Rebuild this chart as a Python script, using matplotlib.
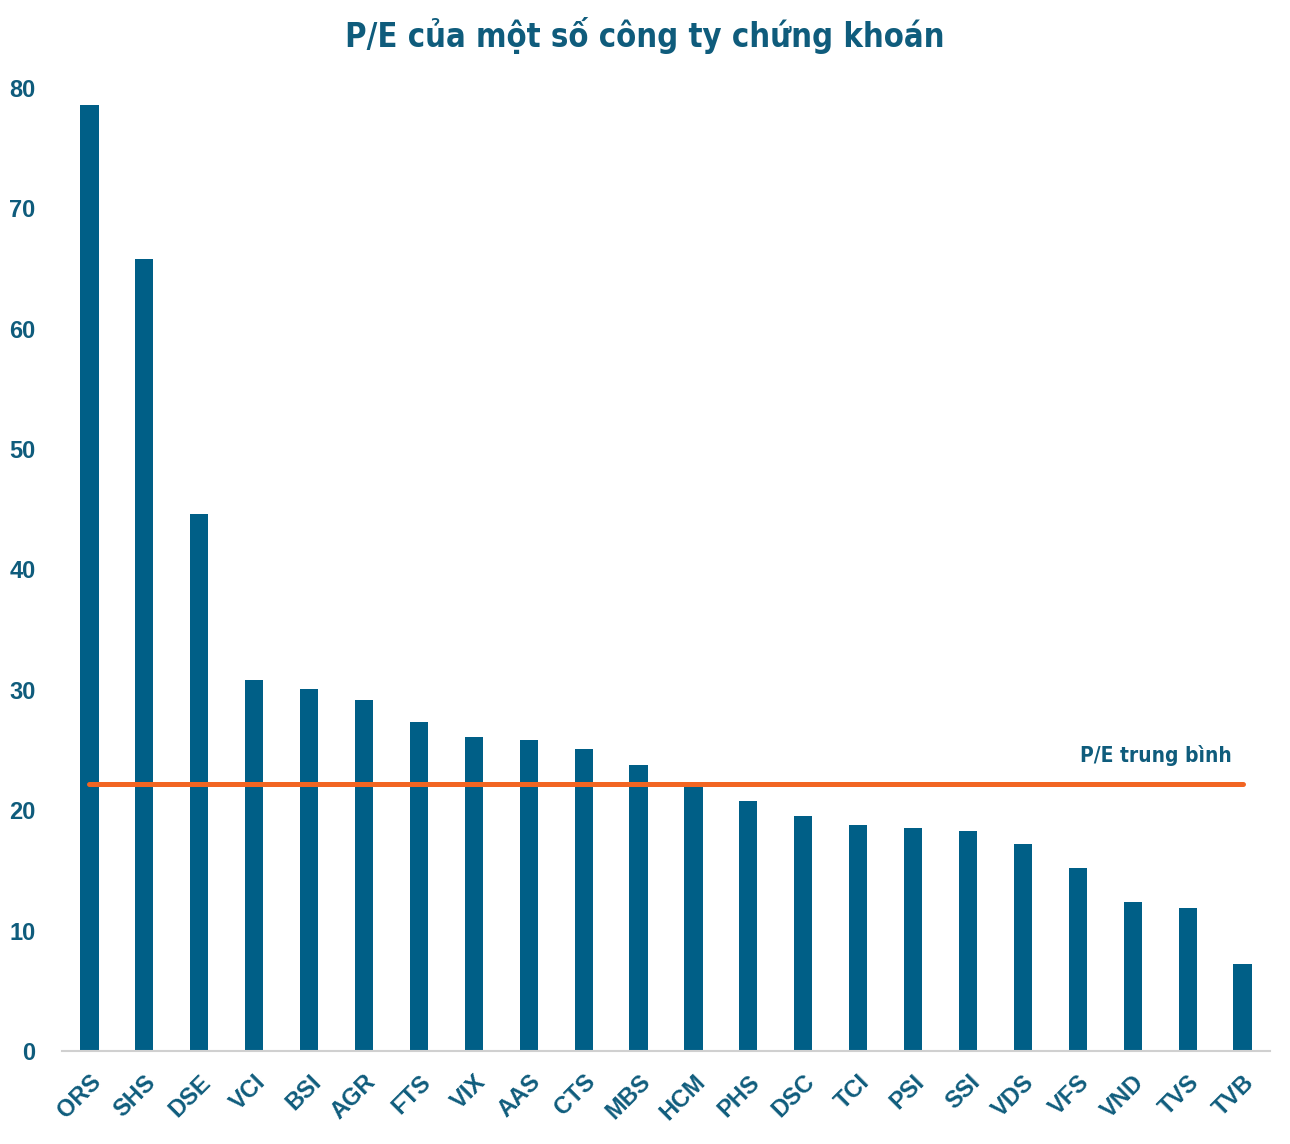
import matplotlib
matplotlib.use("Agg")
import matplotlib.pyplot as plt
import numpy as np

# Dữ liệu P/E
ma_ck = ["ORS", "SHS", "DSE", "VCI", "BSI", "AGR", "FTS", "VIX", "AAS", "CTS", "MBS",
         "HCM", "PHS", "DSC", "TCI", "PSI", "SSI", "VDS", "VFS", "VND", "TVS", "TVB"]
pe = [78.6, 65.8, 44.6, 30.8, 30.1, 29.2, 27.3, 26.1, 25.8, 25.1, 23.8,
      22.0, 20.8, 19.5, 18.8, 18.5, 18.3, 17.2, 15.2, 12.4, 11.9, 7.2]
pe_tb = 22.2

xanh = "#005F87"
chu = "#0F5C7C"
cam = "#F26522"

plt.rcParams['font.family'] = ['Liberation Sans', 'DejaVu Sans']

fig = plt.figure(figsize=(12.9, 11.44), dpi=100)
ax = fig.add_axes([62/1290, 1-1051/1144, (1270-62)/1290, (1051-88)/1144])

x = np.arange(len(ma_ck))
ax.bar(x, pe, width=0.33, color=xanh, zorder=2)

# đường P/E trung bình
ax.plot([x[0], x[-1]], [pe_tb, pe_tb], color=cam, lw=3.6, solid_capstyle='round', zorder=3)
ax.text(x[-1] - 0.2, pe_tb + 1.5, "P/E trung bình", ha='right', va='bottom',
        fontsize=15, fontweight='bold', color=chu, fontstretch='condensed',
        family=['DejaVu Sans'])

ax.set_xlim(-0.5, len(ma_ck) - 0.5)
ax.set_ylim(0, 80)
ax.set_yticks(range(0, 81, 10))
ax.set_xticks(x)
ax.set_xticklabels(ma_ck, rotation=45, ha='right', rotation_mode='anchor')

for s in ['top', 'right', 'left']:
    ax.spines[s].set_visible(False)
ax.spines['bottom'].set_color('#D0D0D0')
ax.spines['bottom'].set_linewidth(1.5)
ax.tick_params(axis='both', length=0, colors=chu)
ax.tick_params(axis='y', pad=19, labelsize=17)
ax.tick_params(axis='x', pad=14, labelsize=17)
for lb in ax.get_xticklabels() + ax.get_yticklabels():
    lb.set_fontweight('bold')
    lb.set_color(chu)

fig.text(0.5, 1 - 35/1144, "P/E của một số công ty chứng khoán", ha='center', va='center',
         fontsize=23.5, fontweight='bold', color=chu, fontstretch='condensed',
         family=['DejaVu Sans'])

fig.savefig("out.png", dpi=100)
